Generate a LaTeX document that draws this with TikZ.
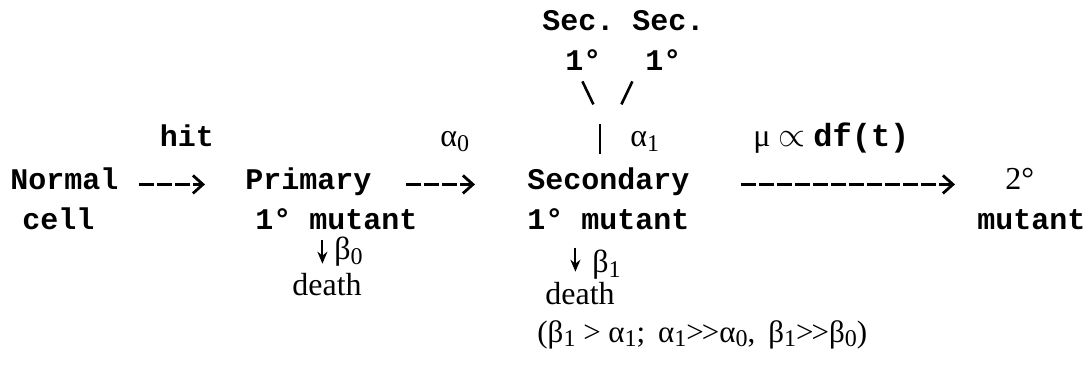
\documentclass[tikz,border=0pt]{standalone}
\usepackage{fontspec}
\setmainfont{Liberation Serif}
\setmonofont{Liberation Mono}
\usetikzlibrary{arrows.meta}
\newcommand{\lo}[1]{\raisebox{-0.35ex}{\fontsize{12}{12}\selectfont #1}}
\newcommand{\muchgt}{{>}\kern-1pt{>}}

\begin{document}
\begin{tikzpicture}[x=0.5pt,y=-0.5pt,
  mono/.style={inner sep=0pt,anchor=base west,font=\ttfamily\bfseries\fontsize{15}{18}\selectfont},
  serif/.style={inner sep=0pt,anchor=base west,font=\fontsize{16}{19}\selectfont},
  dashto/.style={line width=1.5pt,dash pattern=on 7.5pt off 1.5pt,
    -{Straight Barb[length=5pt,width=9pt,line width=1.4pt]}},
  tick/.style={line width=1.3pt},
  drop/.style={line width=1pt,-{Stealth[length=6pt,width=5pt]}}]
\useasboundingbox (0,0) rectangle (1088,376);
% sources on top
\node[mono] (secA) at (542,30) {Sec.};
\node[mono] (secB) at (632,30) {Sec.};
\node[mono] (oneA) at (565,70) {1°};
\node[mono] (oneB) at (645,70) {1°};
% main row
\node[mono] (normal) at (10,189) {Normal};
\node[mono] (cell) at (22,229) {cell};
\node[mono] (primary) at (245,189) {Primary};
\node[mono] (pmut) at (255,229) {1° mutant};
\node[mono] (secondary) at (527,189) {Secondary};
\node[mono] (smut) at (527,229) {1° mutant};
\node[serif] (two) at (1005,189) {2°};
\node[mono] (mutant) at (977,229) {mutant};
% rates
\node[mono,anchor=base] (hit) at (187,146) {hit};
\node[serif] (a0) at (440,146) {α\lo{0}};
\node[serif] (a1) at (630,146) {α\lo{1}};
\node[serif] (mu) at (753,146) {μ $\propto$ \texttt{\bfseries df(t)}};
\node[serif] (b0) at (334,259) {β\lo{0}};
\node[serif] (death0) at (292,295) {death};
\node[serif] (b1) at (592,272) {β\lo{1}};
\node[serif] (death1) at (545,304) {death};
\node[serif,font=\fontsize{15.5}{19}\selectfont] (cond) at (537,342)
  {(β\lo{1} > α\lo{1};\ \,α\lo{1}\muchgt α\lo{0},\ \,β\lo{1}\muchgt β\lo{0})};
% arrows
\draw[dashto,shorten <=10pt,shorten >=20pt] (normal.mid east) -- (primary.mid west);
\draw[dashto,shorten <=17pt,shorten >=26pt] (primary.mid east) -- (secondary.mid west);
\draw[dashto,shorten <=25.5pt,shorten >=25pt] (secondary.mid east) -- (secondary.mid east -| two.west);
\draw[tick] (oneA.south) ++(-1,11) -- ++(11,23);
\draw[tick] (oneB.south) ++(-31,11) -- ++(-11,23);
\draw[tick] (secondary.north west) ++(73,-13) -- ++(0,-30);
\draw[drop] (pmut.south) ++(-14,10) -- ++(0,24);
\draw[drop] (smut.south) ++(-33,18) -- ++(0,24);
\end{tikzpicture}
\end{document}
